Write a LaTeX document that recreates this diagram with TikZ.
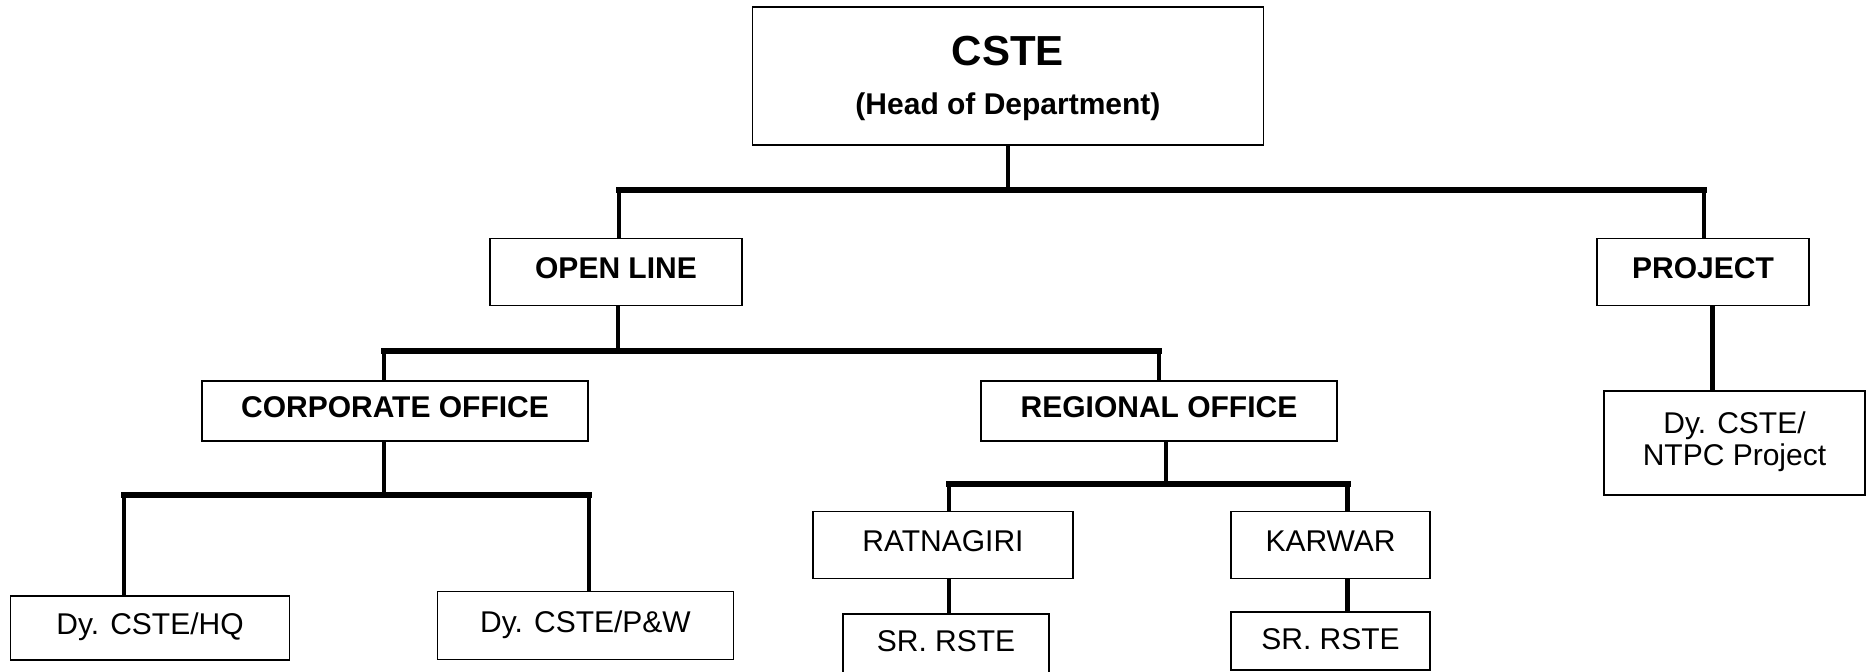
\documentclass[tikz,border=0pt]{standalone}
\usepackage{fontspec}
\setmainfont{Liberation Sans}
\begin{document}
\begin{tikzpicture}[x=0.5pt, y=-0.5pt,
    box/.style={draw, line width=0.9pt, inner sep=0pt, align=center, text depth=4pt, font=\fontsize{15}{16}\selectfont},
    headbox/.style={box, font=\fontsize{15}{16}\selectfont\bfseries},
    stem/.style={line width=2.2pt},
    bus/.style={line width=3pt, line cap=rect}]
    \useasboundingbox (0,0) rectangle (1870,672);

    % Head of department
    \node[headbox, minimum width=255.5pt, minimum height=69pt, text depth=0.8pt, font=\fontsize{15}{24.5}\selectfont\bfseries] (cste) at (1008,76)
        {{\fontsize{21}{24.5}\selectfont CSTE}\\(Head of Department)};

    % Second level
    \node[headbox, minimum width=126pt, minimum height=33.5pt] (open) at (616,272) {OPEN LINE};
    \node[headbox, minimum width=106pt, minimum height=33.5pt] (project) at (1703,272) {PROJECT};

    % Open line offices
    \node[headbox, minimum width=193pt, minimum height=30pt] (corp) at (395,411) {CORPORATE OFFICE};
    \node[headbox, minimum width=178pt, minimum height=30pt] (regional) at (1159,411) {REGIONAL OFFICE};

    % Project
    \node[box, minimum width=130.5pt, minimum height=52pt] (ntpc) at (1734.5,443) {Dy. CSTE/\\NTPC Project};

    % Corporate office
    \node[box, minimum width=139.5pt, minimum height=32pt] (hq) at (150,628) {Dy. CSTE/HQ};
    \node[box, minimum width=148pt, minimum height=34pt] (pw) at (585.5,625.5) {Dy. CSTE/P\&W};

    % Regional office
    \node[box, minimum width=130pt, minimum height=33.5pt] (ratnagiri) at (943,545) {RATNAGIRI};
    \node[box, minimum width=99.5pt, minimum height=33.5pt] (karwar) at (1330.5,545) {KARWAR};
    \node[box, minimum width=103pt, minimum height=31pt] (srl) at (946,645) {SR. RSTE};
    \node[box, minimum width=99.5pt, minimum height=29pt, text depth=1.5pt] (srr) at (1330.5,641) {SR. RSTE};

    % Bus points
    \coordinate (b1l) at (619,189.6);
    \coordinate (b1r) at (1704,189.6);
    \coordinate (b2l) at (384,350.6);
    \coordinate (b2m) at (618,350.6);
    \coordinate (b2r) at (1159,350.6);
    \coordinate (b3l) at (124,495);
    \coordinate (b3m) at (384,495);
    \coordinate (b3r) at (589,495);
    \coordinate (b4l) at (949,484);
    \coordinate (b4m) at (1166,484);
    \coordinate (b4r) at (1347.6,484);
    \coordinate (pj) at (1712.6,0);

    % Level 1 lines
    \draw[stem] (cste.south) -- (cste.south |- b1l);
    \draw[bus] (b1l) -- (b1r);
    \draw[stem] (b1l) -- (b1l |- open.north);
    \draw[stem] (b1r) -- (b1r |- project.north);

    % Level 2 lines
    \draw[stem] (b2m |- open.south) -- (b2m);
    \draw[bus] (b2l) -- (b2r);
    \draw[stem] (b2l) -- (b2l |- corp.north);
    \draw[stem] (b2r) -- (b2r |- regional.north);
    \draw[stem] (pj |- project.south) -- (pj |- ntpc.north);

    % Level 3 lines
    \draw[stem] (b3m |- corp.south) -- (b3m);
    \draw[bus] (b3l) -- (b3r);
    \draw[stem] (b3l) -- (b3l |- hq.north);
    \draw[stem] (b3r) -- (b3r |- pw.north);

    \draw[stem] (b4m |- regional.south) -- (b4m);
    \draw[bus] (b4l) -- (b4r);
    \draw[stem] (b4l) -- (b4l |- ratnagiri.north);
    \draw[stem] (b4r) -- (b4r |- karwar.north);
    \draw[stem] (b4l |- ratnagiri.south) -- (b4l |- srl.north);
    \draw[stem] (b4r |- karwar.south) -- (b4r |- srr.north);
\end{tikzpicture}
\end{document}
